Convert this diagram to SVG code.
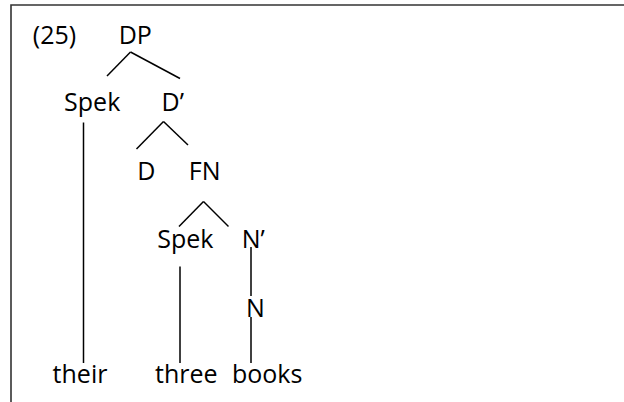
<svg xmlns="http://www.w3.org/2000/svg" width="624" height="402" viewBox="0 0 624 402">
  <style>
    .lbl { font-family: "Open Sans", "Liberation Sans", sans-serif; font-size: 25px; fill: #000; text-anchor: middle; }
    .edge { stroke: #000; stroke-width: 1.5; fill: none; stroke-linecap: butt; }
    .frame { stroke: #333; stroke-width: 1.6; fill: none; }
  </style>
  <rect width="624" height="402" fill="#fff"/>
  <!-- frame: top and left rules -->
  <path class="frame" d="M11 402 V5 H624"/>

  <text class="lbl" x="54.5" y="44">(25)</text>

  <g id="connectors">
    <line class="edge" x1="130.5" y1="52" x2="107" y2="76"/>
    <line class="edge" x1="130.5" y1="52" x2="180" y2="78.5"/>
    <line class="edge" x1="83.5" y1="122.5" x2="83.5" y2="363"/>
    <line class="edge" x1="163.5" y1="121.5" x2="136.5" y2="149"/>
    <line class="edge" x1="163.5" y1="121.5" x2="188" y2="145"/>
    <line class="edge" x1="203.5" y1="201.5" x2="179" y2="226.5"/>
    <line class="edge" x1="203.5" y1="201.5" x2="228.5" y2="226.5"/>
    <line class="edge" x1="180" y1="266.5" x2="180" y2="363"/>
    <line class="edge" x1="251" y1="247" x2="251" y2="296"/>
    <line class="edge" x1="251" y1="317" x2="251" y2="363"/>
  </g>

  <g id="node-dp"><text class="lbl" x="135.3" y="43.5">DP</text></g>
  <g id="node-spek1"><text class="lbl" x="92.2" y="111">Spek</text></g>
  <g id="node-dbar"><text class="lbl" x="172.8" y="111">D’</text></g>
  <g id="node-d"><text class="lbl" x="146.3" y="180">D</text></g>
  <g id="node-fn"><text class="lbl" x="204.7" y="180">FN</text></g>
  <g id="node-spek2"><text class="lbl" x="185.3" y="247.5">Spek</text></g>
  <g id="node-nbar"><text class="lbl" x="253.3" y="247.5">N’</text></g>
  <g id="node-n"><text class="lbl" x="255.5" y="316.5">N</text></g>
  <g id="node-their"><text class="lbl" x="80" y="382.5">their</text></g>
  <g id="node-three"><text class="lbl" x="186.3" y="382.5">three</text></g>
  <g id="node-books"><text class="lbl" x="267.2" y="382.5">books</text></g>
</svg>
